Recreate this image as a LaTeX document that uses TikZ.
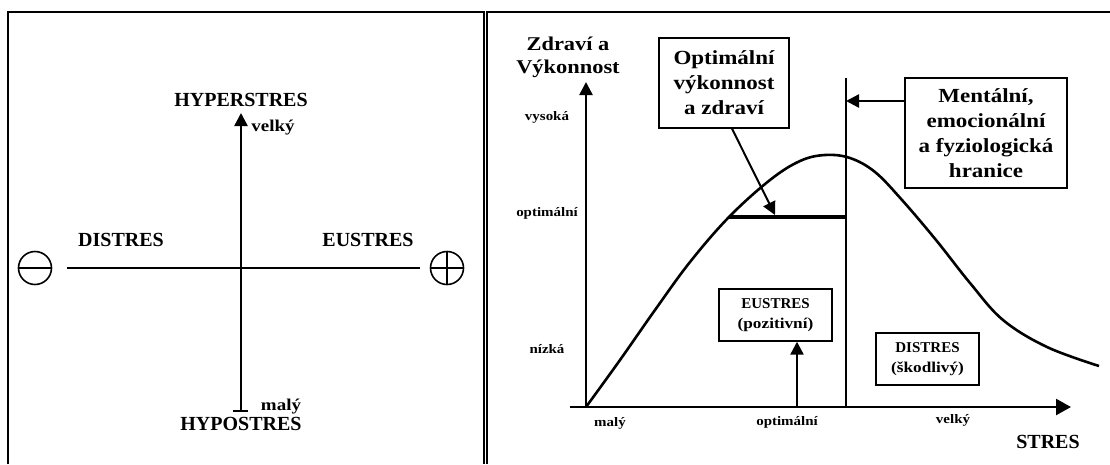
\documentclass[tikz,border=0pt]{standalone}
\usepackage{fontspec}
\setmainfont{Liberation Serif}
\newfontfamily\widefont{Liberation Serif}[FakeStretch=1.15]
\usetikzlibrary{arrows.meta}
\begin{document}
\begin{tikzpicture}[x=1pt,y=-1pt,
  big/.style={font=\bfseries\fontsize{20}{24.5}\selectfont, align=center, inner sep=0pt},
  bigw/.style={font=\widefont\bfseries\fontsize{20}{25}\selectfont, align=center, inner sep=0pt},
  mid/.style={font=\widefont\bfseries\fontsize{16.5}{20}\selectfont, inner sep=0pt},
  small/.style={font=\widefont\bfseries\fontsize{13}{16}\selectfont, inner sep=0pt},
  boxtxt/.style={font=\bfseries\fontsize{15}{19.5}\selectfont, align=center, inner sep=0pt},
  frame/.style={line width=1.3pt},
  axis/.style={line width=2.4pt},
  thinline/.style={line width=1.3pt},
  box/.style={draw, line width=1.4pt},
  tip/.style={-{Triangle[length=13pt,width=13pt]}},
  bigtip/.style={-{Triangle[length=15pt,width=16pt]}}
]
\useasboundingbox[fill=white] (0,0) rectangle (1110,464);

% frames
\coordinate (fL1) at (8,464);
\coordinate (fL2) at (484,464);
\coordinate (fR1) at (487,464);
\coordinate (fR2) at (1112,464);
\draw[frame] (fL1) |- (484,12) -- (fL2);
\draw[frame] (fR1) |- (fR2 |- 0,12) -- (fR2);

% ---------------- left panel ----------------
\coordinate (hL) at (67,268);
\coordinate (hR) at (420,268);
\coordinate (vB) at (241,411);
\coordinate (vT) at (241,113);
\draw[axis] (hL) -- (hR);
\draw[axis,tip] (vB) -- (vT);
\draw[thinline] ([xshift=-8pt]vB) -- ([xshift=7pt]vB);

\node[big] (hyper) at (241,100) {HYPERSTRES};
\node[big] (hypo) at (241,424) {HYPOSTRES};
\node[mid] (lvel) at (273,128) {velký};
\node[mid] (lmal) at (281,407) {malý};
\node[big] (ldis) at (121,240) {DISTRES};
\node[big] (leus) at (368,240) {EUSTRES};

\node[circle, draw, line width=1.6pt, minimum size=33pt, inner sep=0pt] (minus) at (35,268) {};
\draw[line width=1.6pt] (minus.west) -- (minus.east);
\node[circle, draw, line width=1.6pt, minimum size=33pt, inner sep=0pt] (plus) at (447,268) {};
\draw[line width=1.6pt] (plus.west) -- (plus.east);
\draw[line width=1.6pt] (plus.north) -- (plus.south);

% ---------------- right panel ----------------
\coordinate (O) at (586,407);
\coordinate (yT) at (586,82);
\coordinate (xL) at (570,407);
\coordinate (xR) at (1071,407);
\draw[axis,tip] (O) -- (yT);
\draw[axis,bigtip] (xL) -- (xR);

\node[bigw, font=\widefont\bfseries\fontsize{19.5}{23}\selectfont] (ylab) at (568,57) {Zdraví a\\Výkonnost};
\node[big] (stres) at (1048,442) {STRES};

\node[small] (vys) at (547,117) {vysoká};
\node[small] (yopt) at (547,213) {optimální};
\node[small] (niz) at (547,349) {nízká};
\node[small] (xmal) at (610,423) {malý};
\node[small] (xopt) at (787,422) {optimální};
\node[small] (xvel) at (953,420) {velký};

% boundary line
\coordinate (bT) at (846,78);
\coordinate (bB) at (846,407);
\draw[thinline] (bT) -- (bB);

% curve
\draw[line width=2.6pt, line join=round] plot[smooth, tension=0.6] coordinates {
 (586,407) (620,360) (655,310) (690,262) (729,217) (770,180) (800,161) (825,155)
 (850,158) (875,172) (902,200) (936,240) (970,283) (1003,320) (1047,347) (1099,366)};

% optimal bar
\coordinate (barL) at (729,217);
\draw[line width=3.4pt] (barL) -- (barL -| bT);

% boxes
\node[box, minimum width=130pt, minimum height=90pt] (optbox) at (724,83) {};
\node[bigw] (opttxt) at (optbox.center) {Optimální\\výkonnost\\a zdraví};

\node[box, minimum width=162pt, minimum height=110pt] (mbox) at (986,133) {};
\node[bigw] (mtxt) at (mbox.center) {Mentální,\\emocionální\\a fyziologická\\hranice};

\node[box, minimum width=113pt, minimum height=52pt] (ebox) at (775.5,315) {};
\node[boxtxt] (etxt) at (ebox.center) {EUSTRES\\{\widefont\bfseries (pozitivní)}};

\node[box, minimum width=103pt, minimum height=52pt] (dbox) at (927.5,359) {};
\node[boxtxt] (dtxt) at (dbox.center) {DISTRES\\{\widefont\bfseries (škodlivý)}};

% connectors
\coordinate (ptip) at (775,215);
\draw[line width=2pt, tip] ([xshift=8pt]optbox.south) -- (ptip);
\draw[line width=2.4pt, tip] ([yshift=32pt]mbox.west) -- ([yshift=32pt]mbox.west -| bT);
\coordinate (ea) at (797,407);
\draw[axis, tip] (ea) -- (ea |- ebox.south);
\end{tikzpicture}
\end{document}
